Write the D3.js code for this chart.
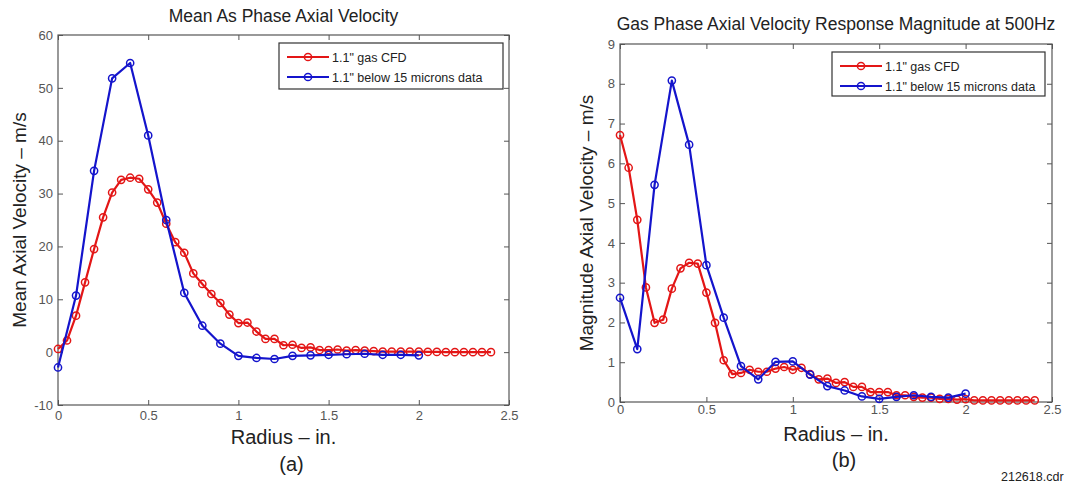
<!DOCTYPE html>
<html>
<head>
<meta charset="utf-8">
<script src="https://cdn.jsdelivr.net/npm/d3@7"></script>
<style>
  body { margin: 0; background: #fff; }
  svg { display: block; font-family: "Liberation Sans", Arial, sans-serif; }
</style>
</head>
<body>
<svg id="chart" width="1088" height="483"></svg>
<script>
// radius positions (in.)
const cfdRadius = [0, 0.05, 0.1, 0.15, 0.2, 0.25, 0.3, 0.35, 0.4, 0.45, 0.5, 0.55, 0.6, 0.65, 0.7, 0.75, 0.8, 0.85, 0.9, 0.95,
  1.0, 1.05, 1.1, 1.15, 1.2, 1.25, 1.3, 1.35, 1.4, 1.45, 1.5, 1.55, 1.6, 1.65, 1.7, 1.75, 1.8, 1.85, 1.9, 1.95,
  2.0, 2.05, 2.1, 2.15, 2.2, 2.25, 2.3, 2.35, 2.4];
const dataRadius = [0, 0.1, 0.2, 0.3, 0.4, 0.5, 0.6, 0.7, 0.8, 0.9, 1.0, 1.1, 1.2, 1.3, 1.4, 1.5, 1.6, 1.7, 1.8, 1.9, 2.0];

// (a) mean axial velocity, m/s
const meanCfd = [0.6, 2.2, 6.9, 13.2, 19.5, 25.5, 30.2, 32.6, 33.0, 32.8, 30.8, 28.3, 24.3, 20.8, 18.8, 14.9, 12.9, 11.0, 9.3, 7.1,
  5.5, 5.6, 3.9, 2.5, 2.5, 1.3, 1.4, 0.8, 0.9, 0.4, 0.4, 0.5, 0.3, 0.4, 0.3, 0.2, 0.1, 0.1, 0.1, 0.1,
  0.1, 0.05, 0.05, 0, 0, 0, 0, 0, 0];
const meanData = [-2.9, 10.7, 34.3, 51.8, 54.7, 41.0, 25.0, 11.2, 5.0, 1.6, -0.7, -1.1, -1.3, -0.7, -0.6, -0.5, -0.4, -0.3, -0.5, -0.5, -0.6];

// (b) response magnitude at 500Hz, m/s
const magCfd = [6.71, 5.89, 4.58, 2.88, 1.99, 2.07, 2.85, 3.36, 3.50, 3.48, 2.75, 1.99, 1.05, 0.70, 0.73, 0.81, 0.76, 0.76, 0.84, 0.88,
  0.81, 0.86, 0.70, 0.57, 0.59, 0.48, 0.50, 0.38, 0.38, 0.25, 0.25, 0.25, 0.17, 0.17, 0.13, 0.11, 0.11, 0.08, 0.08, 0.06,
  0.07, 0.04, 0.04, 0.04, 0.04, 0.04, 0.04, 0.04, 0.04];
const magData = [2.62, 1.33, 5.46, 8.08, 6.47, 3.44, 2.12, 0.90, 0.57, 1.01, 1.02, 0.69, 0.40, 0.29, 0.14, 0.08, 0.13, 0.17, 0.13, 0.11, 0.21];

const xTicks = [0, 0.5, 1, 1.5, 2, 2.5];
const yTicksA = [-10, 0, 10, 20, 30, 40, 50, 60];
const yTicksB = [0, 1, 2, 3, 4, 5, 6, 7, 8, 9];
const seriesNames = ["1.1\" gas CFD", "1.1\" below 15 microns data"];
const seriesColors = ["#e31616", "#1414cc"];

const svg = d3.select("#chart");

function panel({left, right, top, bottom, yDomain, yTicks, series, title, titleY, ylabel, ylabelX,
                xlabelY, xPad, tagY, tag, legend}) {
  const x = d3.scaleLinear([0, 2.5], [left, right]);
  const y = d3.scaleLinear(yDomain, [bottom, top]);
  const g = svg.append("g");
  const fmt = d => String(d);

  const styleAxis = a => {
    a.select(".domain").remove();
    a.selectAll(".tick line").attr("stroke", "#555");
    a.selectAll(".tick text").attr("fill", "#555").attr("font-size", 13)
      .attr("font-family", "Liberation Sans, Arial, sans-serif");
  };

  g.append("g").attr("transform", `translate(0,${bottom})`)
    .call(d3.axisBottom(x).tickValues(xTicks).tickFormat(fmt).tickSizeInner(-5).tickSizeOuter(0).tickPadding(xPad))
    .call(styleAxis);
  g.append("g").attr("transform", `translate(0,${top})`)
    .call(d3.axisTop(x).tickValues(xTicks).tickFormat("").tickSizeInner(-5).tickSizeOuter(0))
    .call(styleAxis);
  g.append("g").attr("transform", `translate(${left},0)`)
    .call(d3.axisLeft(y).tickValues(yTicks).tickFormat(fmt).tickSizeInner(-5).tickSizeOuter(0).tickPadding(5))
    .call(styleAxis);
  g.append("g").attr("transform", `translate(${right},0)`)
    .call(d3.axisRight(y).tickValues(yTicks).tickFormat("").tickSizeInner(-5).tickSizeOuter(0))
    .call(styleAxis);

  g.append("rect")
    .attr("x", left).attr("y", top)
    .attr("width", right - left).attr("height", bottom - top)
    .attr("fill", "none").attr("stroke", "#555").attr("stroke-width", 1.2);

  const line = d3.line().x(d => x(d[0])).y(d => y(d[1]));
  series.forEach((s, i) => {
    const pts = s.xs.map((v, j) => [v, s.ys[j]]);
    g.append("path").datum(pts)
      .attr("d", line)
      .attr("fill", "none")
      .attr("stroke", seriesColors[i])
      .attr("stroke-width", 2.2)
      .attr("stroke-linejoin", "round");
    g.append("g").selectAll("circle")
      .data(pts)
      .join("circle")
        .attr("cx", d => x(d[0]))
        .attr("cy", d => y(d[1]))
        .attr("r", 3.6)
        .attr("fill", "none")
        .attr("stroke", seriesColors[i])
        .attr("stroke-width", 1.5);
  });

  // legend
  const lg = g.append("g");
  lg.append("rect")
    .attr("x", legend.x).attr("y", legend.y)
    .attr("width", legend.w).attr("height", legend.h)
    .attr("fill", "#fff").attr("stroke", "#333").attr("stroke-width", 1.2);
  seriesNames.forEach((name, i) => {
    const ly = legend.y + 14 + i * 20;
    lg.append("line")
      .attr("x1", legend.x + 8).attr("x2", legend.x + 50)
      .attr("y1", ly).attr("y2", ly)
      .attr("stroke", seriesColors[i]).attr("stroke-width", 2);
    lg.append("circle")
      .attr("cx", legend.x + 29).attr("cy", ly).attr("r", 3.6)
      .attr("fill", "none").attr("stroke", seriesColors[i]).attr("stroke-width", 1.5);
    lg.append("text")
      .attr("x", legend.x + 53).attr("y", ly + 4.5)
      .attr("font-size", 12.5).attr("fill", "#222")
      .text(name);
  });

  g.append("text")
    .attr("x", (left + right) / 2).attr("y", titleY)
    .attr("text-anchor", "middle").attr("font-size", 17.5).attr("fill", "#222")
    .text(title);
  g.append("text")
    .attr("x", (left + right) / 2).attr("y", xlabelY)
    .attr("text-anchor", "middle").attr("font-size", 20).attr("fill", "#222")
    .text("Radius \u2013 in.");
  g.append("text")
    .attr("transform", `translate(${ylabelX},${(top + bottom) / 2}) rotate(-90)`)
    .attr("text-anchor", "middle").attr("font-size", 19).attr("fill", "#222")
    .text(ylabel);
  g.append("text")
    .attr("x", (left + right) / 2 + 8).attr("y", tagY)
    .attr("text-anchor", "middle").attr("font-size", 20).attr("fill", "#222")
    .text(tag);
}

panel({
  left: 58, right: 509, top: 35, bottom: 405,
  yDomain: [-10, 60], yTicks: yTicksA,
  series: [{xs: cfdRadius, ys: meanCfd}, {xs: dataRadius, ys: meanData}],
  title: "Mean As Phase Axial Velocity", titleY: 22,
  ylabel: "Mean Axial Velocity \u2013 m/s", ylabelX: 26,
  xlabelY: 444, xPad: 6, tagY: 471, tag: "(a)",
  legend: {x: 279, y: 43, w: 224, h: 46}
});

panel({
  left: 620, right: 1052, top: 44, bottom: 402,
  yDomain: [0, 9], yTicks: yTicksB,
  series: [{xs: cfdRadius, ys: magCfd}, {xs: dataRadius, ys: magData}],
  title: "Gas Phase Axial Velocity Response Magnitude at 500Hz", titleY: 30,
  ylabel: "Magnitude Axial Velocity \u2013 m/s", ylabelX: 593,
  xlabelY: 441, xPad: 3, tagY: 467, tag: "(b)",
  legend: {x: 832, y: 52, w: 213, h: 44}
});

svg.append("text")
  .attr("x", 1001).attr("y", 481)
  .attr("font-size", 12.5).attr("fill", "#222")
  .text("212618.cdr");
</script>
</body>
</html>
